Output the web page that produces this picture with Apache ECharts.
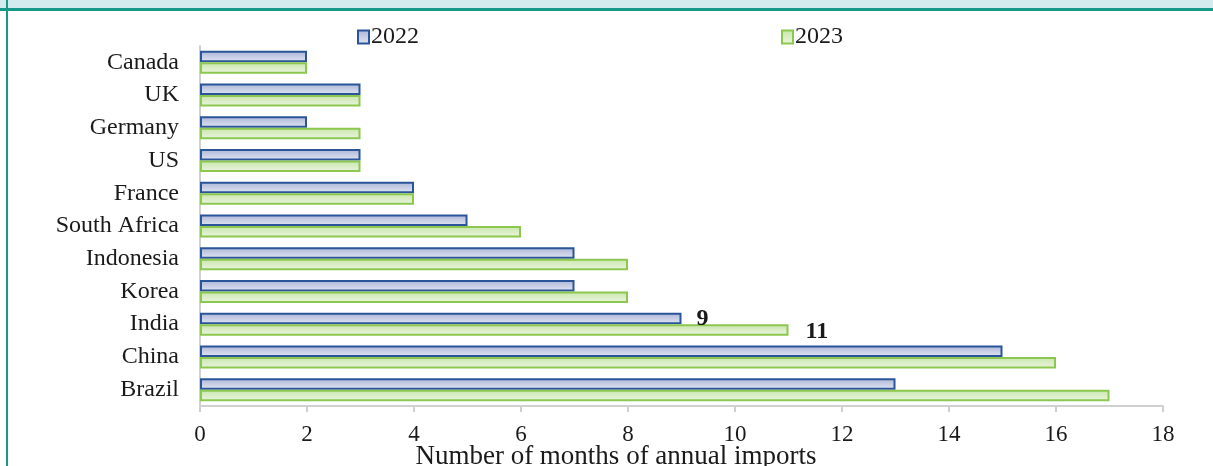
<!DOCTYPE html>
<html>
<head>
<meta charset="utf-8">
<script src="https://cdn.jsdelivr.net/npm/echarts@6/dist/echarts.min.js"></script>
<style>
  html, body { margin: 0; padding: 0; background: #ffffff; }
  #chart { width: 1213px; height: 466px; }
</style>
</head>
<body>
<div id="chart"></div>
<script>
// Reserves expressed as months of annual imports, by economy
const categories = ['Canada', 'UK', 'Germany', 'US', 'France', 'South Africa', 'Indonesia', 'Korea', 'India', 'China', 'Brazil'];
const values2022 = [2, 3, 2, 3, 4, 5, 7, 7, 9, 15, 13];
const values2023 = [2, 3, 3, 3, 4, 6, 8, 8, 11, 16, 17];
const xTicks = { min: 0, max: 18, interval: 2 };
const axisTitle = 'Number of months of annual imports';
// Only the India values carry a printed label
const labelledCategory = 'India';

const serif = '"Liberation Serif", "DejaVu Serif", serif';

function grad(top, bottom) {
  return new echarts.graphic.LinearGradient(0, 0, 0, 1, [
    { offset: 0, color: top },
    { offset: 1, color: bottom }
  ]);
}

function seriesData(values, labelOffset) {
  return values.map((v, i) => {
    if (categories[i] !== labelledCategory) return v;
    return {
      value: v,
      label: {
        show: true, position: 'right', offset: labelOffset,
        fontFamily: serif, fontSize: 24, fontWeight: 'bold', color: '#1a1a1a'
      }
    };
  });
}

const legendText = { fontFamily: serif, fontSize: 24, color: '#1a1a1a', padding: [0, 0, 0, -3] };

const chart = echarts.init(document.getElementById('chart'), null, { renderer: 'canvas' });

chart.setOption({
  animation: false,
  backgroundColor: '#ffffff',
  graphic: [
    { type: 'rect', shape: { x: 0, y: 0, width: 1213, height: 8 }, style: { fill: '#d3eaee' }, silent: true },
    { type: 'rect', shape: { x: 0, y: 8, width: 1213, height: 3 }, style: { fill: '#17998a' }, silent: true },
    { type: 'rect', shape: { x: 6, y: 0, width: 2, height: 466 }, style: { fill: '#17998a' }, silent: true },
    {
      type: 'text', silent: true, x: 616, y: 457,
      style: {
        text: axisTitle, align: 'center', verticalAlign: 'middle',
        font: '27px ' + serif, fill: '#1a1a1a'
      }
    }
  ],
  legend: [
    {
      left: 352, top: 20, itemWidth: 11, itemHeight: 13, icon: 'rect',
      textStyle: legendText, data: ['2022']
    },
    {
      left: 776, top: 20, itemWidth: 11, itemHeight: 13, icon: 'rect',
      textStyle: legendText, data: ['2023']
    }
  ],
  grid: { left: 200, right: 50, top: 46, bottom: 60, containLabel: false },
  xAxis: {
    type: 'value',
    min: xTicks.min,
    max: xTicks.max,
    interval: xTicks.interval,
    axisLine: { show: true, lineStyle: { color: '#d0d0d0', width: 2 } },
    axisTick: { show: true, length: 6, lineStyle: { color: '#d0d0d0', width: 2 } },
    splitLine: { show: false },
    axisLabel: { fontFamily: serif, fontSize: 23, color: '#1a1a1a', margin: 17 }
  },
  yAxis: {
    type: 'category',
    data: categories,
    inverse: true,
    axisLine: { show: true, lineStyle: { color: '#d0d0d0', width: 2 } },
    axisTick: { show: false },
    axisLabel: { fontFamily: serif, fontSize: 24, color: '#1a1a1a', margin: 21 }
  },
  series: [
    {
      name: '2022',
      type: 'bar',
      barWidth: 11.5,
      barGap: '0%',
      data: seriesData(values2022, [10, 0]),
      itemStyle: {
        color: grad('#aab4d6', '#e3e7f3'),
        borderColor: '#2b559a',
        borderWidth: 2
      }
    },
    {
      name: '2023',
      type: 'bar',
      barWidth: 11.5,
      data: seriesData(values2023, [12, 2]),
      itemStyle: {
        color: grad('#c8e6ab', '#ebf5e1'),
        borderColor: '#8cc84f',
        borderWidth: 2
      }
    }
  ]
});
</script>
</body>
</html>
